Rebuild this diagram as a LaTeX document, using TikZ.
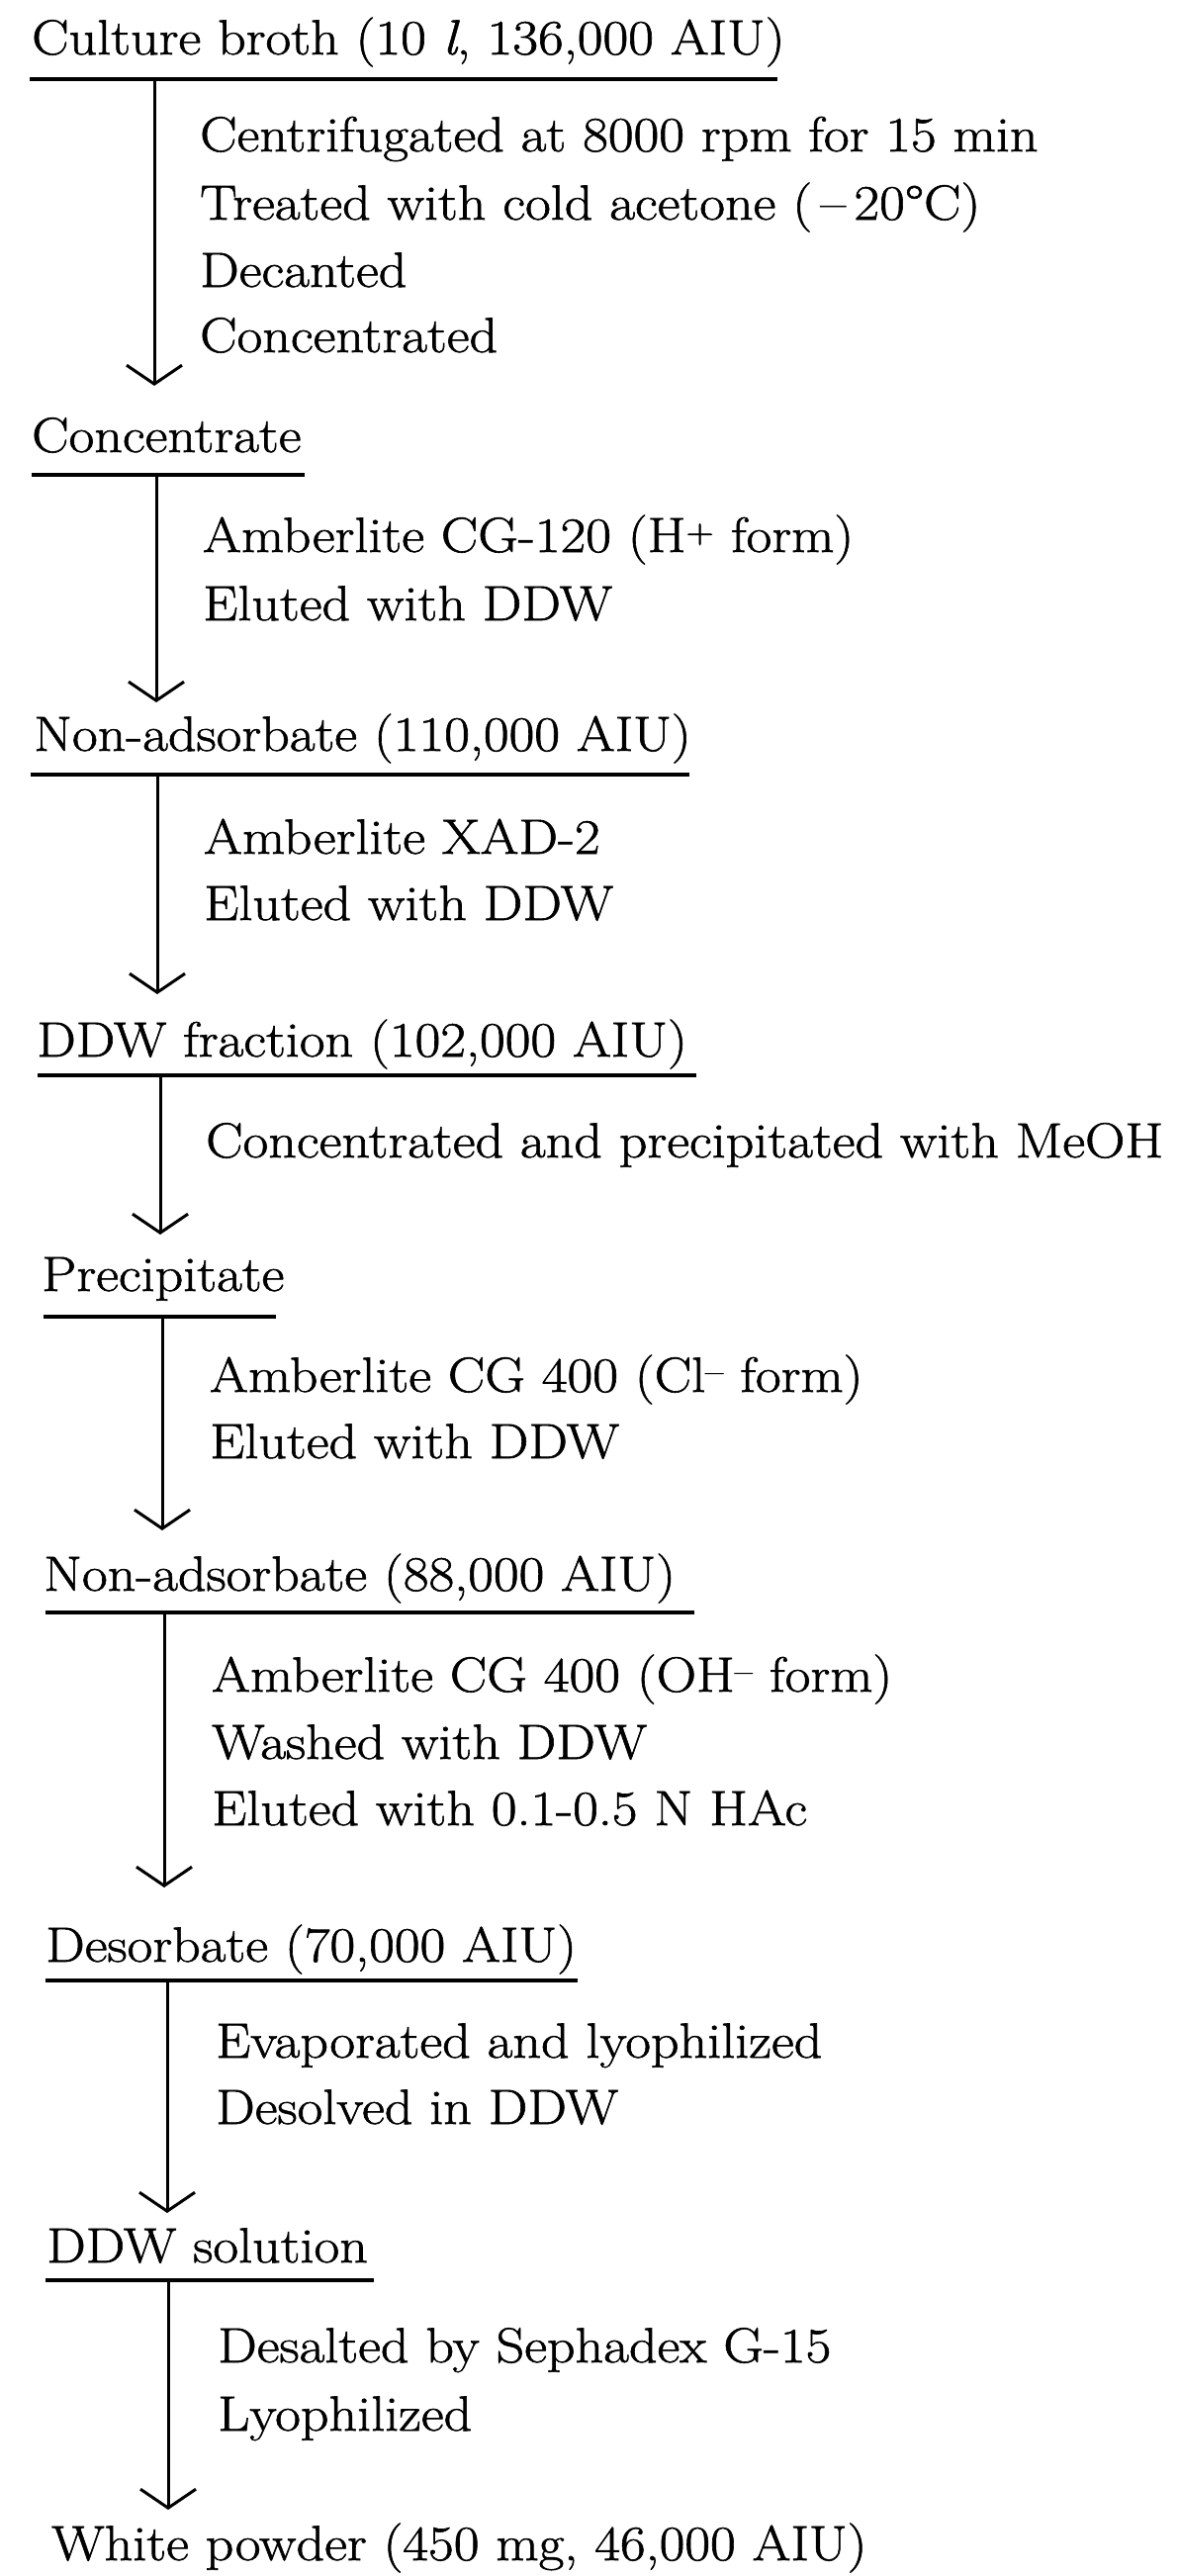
\documentclass[tikz,border=0pt]{standalone}
\usepackage{fontspec}
\setmainfont{Latin Modern Roman}[FakeStretch=1.12, FakeBold=1.2]
\usetikzlibrary{arrows.meta}
\begin{document}
\begin{tikzpicture}[x=1pt,y=-1pt,
  txt/.style={anchor=base west, inner sep=0pt, font=\fontsize{50}{60}\selectfont},
  uline/.style={line width=3.5pt},
  flow/.style={line width=3pt, -{Straight Barb[length=19pt,width=56pt,line width=3pt]}}]
\useasboundingbox (0,0) rectangle (1191,2604);

% headings
\node[txt] (h1) at (32,55) {Culture broth (10 \textit{l}, 136,000 AIU)};
\node[txt] (h2) at (32,457) {Concentrate};
\node[txt] (h3) at (34,759) {Non-adsorbate (110,000 AIU)};
\node[txt] (h4) at (37,1068) {DDW fraction (102,000 AIU)};
\node[txt] (h5) at (42,1305) {Precipitate};
\node[txt] (h6) at (44,1608) {Non-adsorbate (88,000 AIU)};
\node[txt] (h7) at (46,1983) {Desorbate (70,000 AIU)};
\node[txt] (h8) at (47,2287) {DDW solution};
\node[txt] (h9) at (52,2588) {White powder (450 mg, 46,000 AIU)};

% underlines
\draw[uline] (30,80) -- (786,80);
\draw[uline] (32,480) -- (308,480);
\draw[uline] (31,783) -- (697,783);
\draw[uline] (38,1087) -- (704,1087);
\draw[uline] (44,1331) -- (279,1331);
\draw[uline] (46,1630) -- (702,1630);
\draw[uline] (46,2002) -- (584,2002);
\draw[uline] (46,2305) -- (378,2305);

% arrow end points
\coordinate (s1) at (156,80);   \coordinate (t1) at (156,390);
\coordinate (s2) at (158,480);  \coordinate (t2) at (158,710);
\coordinate (s3) at (159,783);  \coordinate (t3) at (159,1005);
\coordinate (s4) at (162,1087); \coordinate (t4) at (162,1248);
\coordinate (s5) at (164,1331); \coordinate (t5) at (164,1547);
\coordinate (s6) at (166,1630); \coordinate (t6) at (166,1908);
\coordinate (s7) at (169,2002); \coordinate (t7) at (169,2237);
\coordinate (s8) at (170,2305); \coordinate (t8) at (170,2537);
\foreach \i in {1,...,8} \draw[flow] (s\i) -- (t\i);

% step labels
\node[txt] (l1a) at (202,153) {Centrifugated at 8000 rpm for 15 min};
\node[txt] (l1b) at (202,222) {Treated with cold acetone (\,\textendash\,20\textdegree C)};
\node[txt] (l1c) at (202,290) {Decanted};
\node[txt] (l1d) at (202,356) {Concentrated};

\node[txt] (l2a) at (205,558) {Amberlite CG-120 (H\textsuperscript{+} form)};
\node[txt] (l2b) at (205,627) {Eluted with DDW};

\node[txt] (l3a) at (206,863) {Amberlite XAD-2};
\node[txt] (l3b) at (206,930) {Eluted with DDW};

\node[txt] (l4a) at (208,1170) {Concentrated and precipitated with MeOH};

\node[txt] (l5a) at (212,1407) {Amberlite CG 400 (Cl\textsuperscript{\textendash} form)};
\node[txt] (l5b) at (212,1474) {Eluted with DDW};

\node[txt] (l6a) at (214,1710) {Amberlite CG 400 (OH\textsuperscript{\textendash} form)};
\node[txt] (l6b) at (214,1778) {Washed with DDW};
\node[txt] (l6c) at (214,1845) {Eluted with 0.1-0.5 N HAc};

\node[txt] (l7a) at (218,2080) {Evaporated and lyophilized};
\node[txt] (l7b) at (218,2147) {Desolved in DDW};

\node[txt] (l8a) at (220,2388) {Desalted by Sephadex G-15};
\node[txt] (l8b) at (220,2457) {Lyophilized};
\end{tikzpicture}
\end{document}
